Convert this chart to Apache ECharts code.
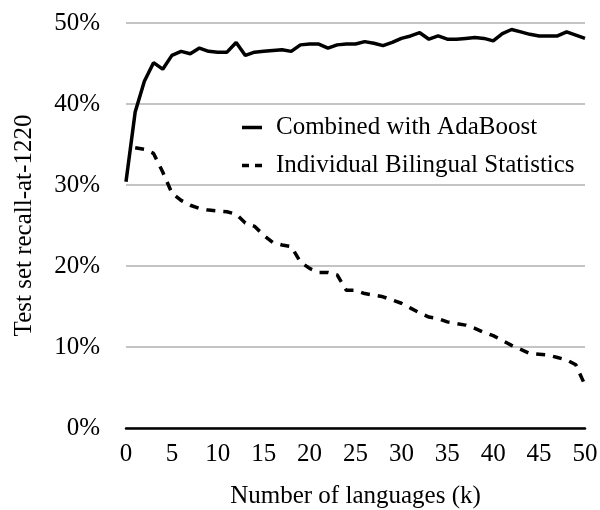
<!DOCTYPE html>
<html>
<head>
<meta charset="utf-8">
<script src="https://cdn.jsdelivr.net/npm/echarts@6/dist/echarts.min.js"></script>
<style>
  html, body { margin: 0; padding: 0; background: #fff; }
  #chart { width: 600px; height: 510px; }
</style>
</head>
<body>
<div id="chart"></div>
<script>
// number of languages (k)
const languages = [0, 1, 2, 3, 4, 5, 6, 7, 8, 9, 10, 11, 12, 13, 14, 15, 16, 17, 18, 19, 20,
  21, 22, 23, 24, 25, 26, 27, 28, 29, 30, 31, 32, 33, 34, 35, 36, 37, 38, 39, 40,
  41, 42, 43, 44, 45, 46, 47, 48, 49, 50]

// recall-at-1220, in %
const combined = [30.4, 39.0, 42.8, 45.1, 44.3, 46.0, 46.5, 46.2, 46.9, 46.5, 46.4,
  46.4, 47.6, 46.0, 46.4, 46.5, 46.6, 46.7, 46.5, 47.3, 47.4,
  47.4, 46.9, 47.3, 47.4, 47.4, 47.7, 47.5, 47.2, 47.6, 48.1,
  48.4, 48.8, 48.0, 48.4, 48.0, 48.0, 48.1, 48.2, 48.1, 47.8,
  48.7, 49.2, 48.9, 48.6, 48.4, 48.4, 48.4, 48.9, 48.5, 48.1]

const individual = [null, 34.6, 34.4, 33.9, 31.6, 29.0, 28.1, 27.5, 27.1, 26.9, 26.8,
  26.7, 26.4, 25.3, 24.9, 23.8, 22.9, 22.6, 22.4, 20.5, 19.7,
  19.2, 19.2, 18.9, 17.0, 17.0, 16.6, 16.4, 16.2, 15.8, 15.4,
  14.8, 14.2, 13.7, 13.5, 13.1, 12.9, 12.7, 12.3, 11.8, 11.4,
  10.8, 10.2, 9.7, 9.2, 9.1, 9.0, 8.7, 8.4, 7.8, 5.3]

const seriesNames = ["Combined with AdaBoost", "Individual Bilingual Statistics"]

const font = "'Liberation Serif', 'Times New Roman', serif"
const fontSize = 25

const chart = echarts.init(document.getElementById("chart"))

const toPoints = (values) => languages.map((k, i) => [k, values[i]])

const option = {
  animation: false,
  textStyle: { fontFamily: font, color: "#000" },
  grid: { left: 126, right: 15, top: 23, bottom: 82, outerBoundsMode: "none" },
  legend: {
    orient: "vertical",
    left: 237,
    top: 110,
    itemWidth: 20,
    itemHeight: 3.5,
    itemGap: 13,
    textStyle: { fontFamily: font, fontSize: fontSize, color: "#000", padding: [0, 0, 0, 9] },
    data: [
      { name: seriesNames[0], icon: "rect", itemStyle: { color: "#000" } },
      // two short dashes for the dashed series
      { name: seriesNames[1], icon: "path://M0,0H7V3.5H0Z M13,0H20V3.5H13Z", itemStyle: { color: "#000" } },
    ],
  },
  xAxis: {
    type: "value",
    min: 0,
    max: 50,
    interval: 5,
    name: "Number of languages (k)",
    nameLocation: "middle",
    nameGap: 56,
    nameTextStyle: { fontFamily: font, fontSize: fontSize, color: "#000" },
    axisLine: { show: true, onZero: false, lineStyle: { color: "#000", width: 2.5 } },
    axisTick: { show: false },
    splitLine: { show: false },
    axisLabel: { fontFamily: font, fontSize: fontSize, color: "#000", margin: 14 },
  },
  yAxis: {
    type: "value",
    min: 0,
    max: 50,
    interval: 10,
    name: "Test set recall-at-1220",
    nameLocation: "middle",
    nameGap: 89,
    nameTextStyle: { fontFamily: font, fontSize: fontSize, color: "#000" },
    axisLine: { show: false },
    axisTick: { show: false },
    splitLine: { lineStyle: { color: "#b0b0b0", width: 1.5 } },
    axisLabel: { fontFamily: font, fontSize: fontSize, color: "#000", margin: 26, formatter: "{value}%" },
  },
  series: [
    {
      name: seriesNames[0],
      type: "line",
      data: toPoints(combined),
      symbol: "none",
      lineStyle: { color: "#000", width: 3.5 },
      itemStyle: { color: "#000" },
    },
    {
      name: seriesNames[1],
      type: "line",
      data: toPoints(individual),
      symbol: "none",
      lineStyle: { color: "#000", width: 3.5, type: [9, 8] },
      itemStyle: { color: "#000" },
    },
  ],
}

chart.setOption(option)
</script>
</body>
</html>
